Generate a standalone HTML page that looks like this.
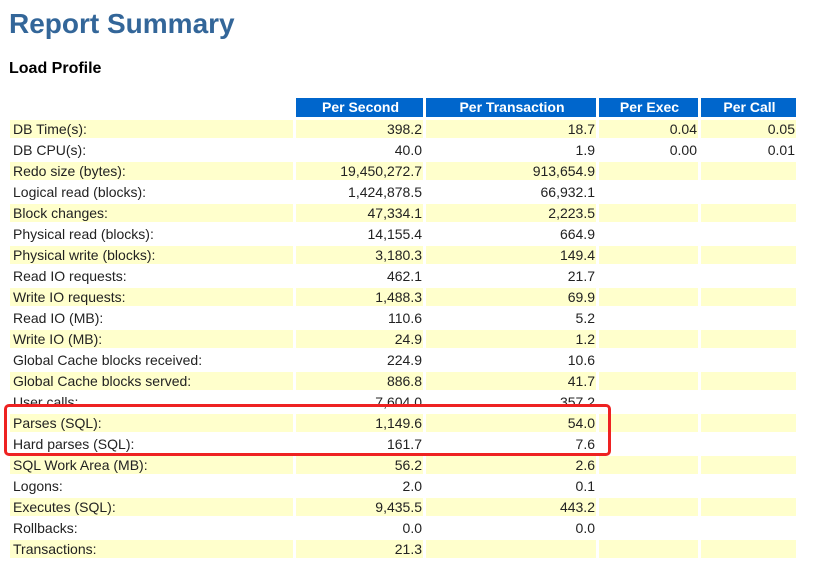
<!DOCTYPE html>
<html><head><meta charset="utf-8"><style>
body{margin:0;background:#fff;width:831px;height:578px;overflow:hidden;position:relative;font-family:"Liberation Sans",Arial,sans-serif;}
h1{position:absolute;left:9px;top:8px;margin:0;font-size:28px;font-weight:bold;color:#336699;}
h2{position:absolute;left:9px;top:60px;margin:0;font-size:16px;font-weight:bold;color:#000;}
table{position:absolute;left:7px;top:95px;border-collapse:separate;border-spacing:3px;table-layout:fixed;}
td,th{padding:0 1px 0 3px;font-size:14px;line-height:18px;height:18px;color:#222;white-space:nowrap;overflow:hidden;}
th{background:#0066CC;color:#fff;font-weight:bold;text-align:center;height:19px;line-height:19px;}
th.e{background:#fff;}
td{text-align:right;}
td.l{text-align:left;}
tr.y td{background:#FFFFCC;}
.box{position:absolute;left:4px;top:404px;width:601px;height:46px;border:3.5px solid #ee2222;border-radius:5px;}
</style></head><body>
<h1>Report Summary</h1>
<h2>Load Profile</h2>
<table>
<colgroup><col style="width:283px"><col style="width:127px"><col style="width:170px"><col style="width:99px"><col style="width:95px"></colgroup>
<tr><th class="e"></th><th>Per Second</th><th>Per Transaction</th><th>Per Exec</th><th>Per Call</th></tr>
<tr class="y"><td class="l">DB Time(s):</td><td>398.2</td><td>18.7</td><td>0.04</td><td>0.05</td></tr>
<tr><td class="l">DB CPU(s):</td><td>40.0</td><td>1.9</td><td>0.00</td><td>0.01</td></tr>
<tr class="y"><td class="l">Redo size (bytes):</td><td>19,450,272.7</td><td>913,654.9</td><td></td><td></td></tr>
<tr><td class="l">Logical read (blocks):</td><td>1,424,878.5</td><td>66,932.1</td><td></td><td></td></tr>
<tr class="y"><td class="l">Block changes:</td><td>47,334.1</td><td>2,223.5</td><td></td><td></td></tr>
<tr><td class="l">Physical read (blocks):</td><td>14,155.4</td><td>664.9</td><td></td><td></td></tr>
<tr class="y"><td class="l">Physical write (blocks):</td><td>3,180.3</td><td>149.4</td><td></td><td></td></tr>
<tr><td class="l">Read IO requests:</td><td>462.1</td><td>21.7</td><td></td><td></td></tr>
<tr class="y"><td class="l">Write IO requests:</td><td>1,488.3</td><td>69.9</td><td></td><td></td></tr>
<tr><td class="l">Read IO (MB):</td><td>110.6</td><td>5.2</td><td></td><td></td></tr>
<tr class="y"><td class="l">Write IO (MB):</td><td>24.9</td><td>1.2</td><td></td><td></td></tr>
<tr><td class="l">Global Cache blocks received:</td><td>224.9</td><td>10.6</td><td></td><td></td></tr>
<tr class="y"><td class="l">Global Cache blocks served:</td><td>886.8</td><td>41.7</td><td></td><td></td></tr>
<tr><td class="l">User calls:</td><td>7,604.0</td><td>357.2</td><td></td><td></td></tr>
<tr class="y"><td class="l">Parses (SQL):</td><td>1,149.6</td><td>54.0</td><td></td><td></td></tr>
<tr><td class="l">Hard parses (SQL):</td><td>161.7</td><td>7.6</td><td></td><td></td></tr>
<tr class="y"><td class="l">SQL Work Area (MB):</td><td>56.2</td><td>2.6</td><td></td><td></td></tr>
<tr><td class="l">Logons:</td><td>2.0</td><td>0.1</td><td></td><td></td></tr>
<tr class="y"><td class="l">Executes (SQL):</td><td>9,435.5</td><td>443.2</td><td></td><td></td></tr>
<tr><td class="l">Rollbacks:</td><td>0.0</td><td>0.0</td><td></td><td></td></tr>
<tr class="y"><td class="l">Transactions:</td><td>21.3</td><td></td><td></td><td></td></tr>
</table>
<div class="box"></div>
</body></html>
